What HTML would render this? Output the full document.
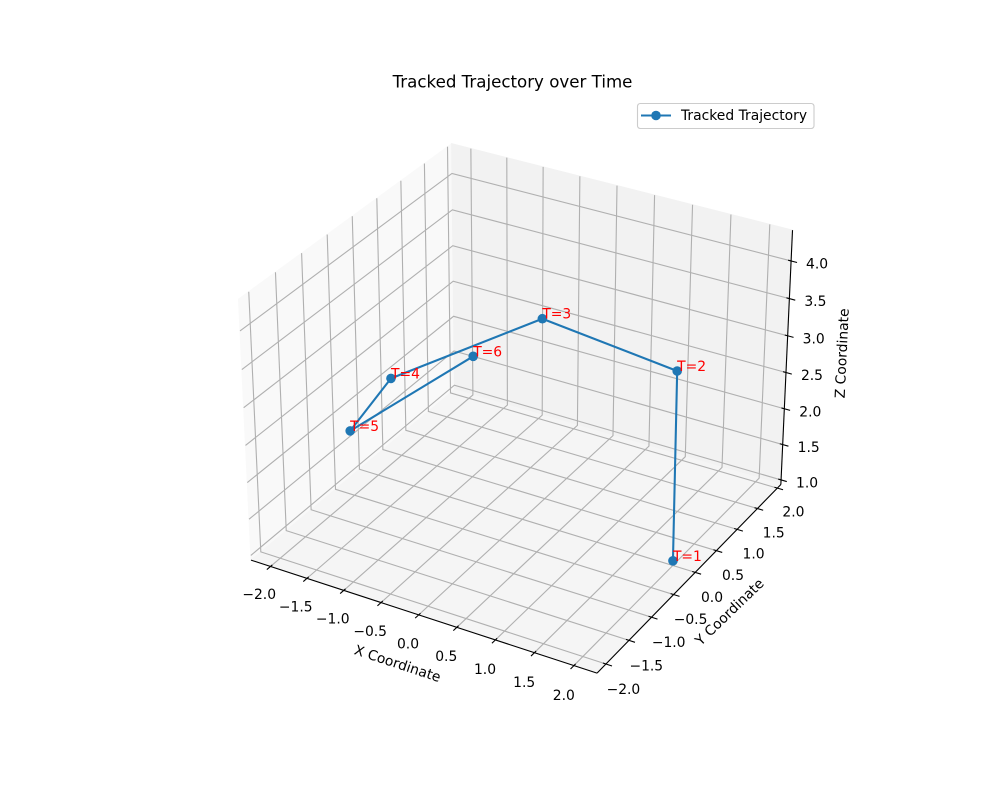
<!DOCTYPE html>
<html>
<head>
<meta charset="utf-8">
<title>Tracked Trajectory over Time</title>
<style>
html,body{margin:0;padding:0;background:#fff;width:1000px;height:800px;overflow:hidden}
svg{display:block}
text{font-family:"DejaVu Sans","Liberation Sans",sans-serif;font-size:13.89px;fill:#000}
</style>
</head>
<body>
<svg id="chart" xmlns="http://www.w3.org/2000/svg" width="1000" height="800" viewBox="0 0 1000 800">
  <rect x="0" y="0" width="1000" height="800" fill="#ffffff"></rect>
  <g id="panes"></g>
  <g id="grid"></g>
  <g id="axes"></g>
  <g id="ticks"></g>
  <g id="tickLabels"></g>
  <g id="series"></g>
  <g id="pointLabels"></g>
  <text x="512.5" y="87.7" text-anchor="middle" style="font-size:16.67px">Tracked Trajectory over Time</text>
  <text id="xTitle" text-anchor="middle">X Coordinate</text>
  <text id="yTitle" text-anchor="middle">Y Coordinate</text>
  <text id="zTitle" text-anchor="middle">Z Coordinate</text>
  <g>
    <rect x="637.5" y="103.5" width="176.5" height="25" rx="2.8" ry="2.8" fill="#ffffff" fill-opacity="0.8" stroke="#cccccc" stroke-width="1.1"></rect>
    <line x1="641" y1="115.5" x2="671" y2="115.5" stroke="#1f77b4" stroke-width="2.08"></line>
    <circle cx="656" cy="115.5" r="4.8" fill="#1f77b4"></circle>
    <text x="681" y="120">Tracked Trajectory</text>
  </g>
</svg>
<script>
const timeLabels = ["T=1", "T=2", "T=3", "T=4", "T=5", "T=6"];
const xValues = [2.0, 1.08, -0.84, -1.98, -1.326, 0.57];
const yValues = [0.0, 1.68, 1.82, 0.28, -1.51, -1.92];
const zValues = [1.0, 2.39, 2.5, 2.15, 2.6, 4.34];
const xTickValues = [-2, -1.5, -1, -0.5, 0, 0.5, 1, 1.5, 2];
const yTickValues = [-2, -1.5, -1, -0.5, 0, 0.5, 1, 1.5, 2];
const zTickValues = [1, 1.5, 2, 2.5, 3, 3.5, 4];
const xLim = [-2.27, 2.29];
const yLim = [-2.19, 2.09];
const zLim = [0.935, 4.405];

const NS = "http://www.w3.org/2000/svg";
const elev = 30 * Math.PI / 180, azim = -60 * Math.PI / 180, dist = 10;
const scaleBox = 1.8294640721620434 * 25 / 24 / Math.sqrt(41);
const box = [4 * scaleBox, 4 * scaleBox, 3 * scaleBox];
const w = [Math.cos(elev) * Math.cos(azim), Math.cos(elev) * Math.sin(azim), Math.sin(elev)];
const uLen = Math.hypot(w[0], w[1]);
const u = [-w[1] / uLen, w[0] / uLen, 0];
const v = [w[1] * u[2] - w[2] * u[1], w[2] * u[0] - w[0] * u[2], w[0] * u[1] - w[1] * u[0]];

function project(x, y, z) {
  const p = [
    ((x - xLim[0]) / (xLim[1] - xLim[0]) - 0.5) * box[0],
    ((y - yLim[0]) / (yLim[1] - yLim[0]) - 0.5) * box[1],
    ((z - zLim[0]) / (zLim[1] - zLim[0]) - 0.5) * box[2]
  ];
  const xv = u[0] * p[0] + u[1] * p[1] + u[2] * p[2];
  const yv = v[0] * p[0] + v[1] * p[1] + v[2] * p[2];
  const d = dist - (w[0] * p[0] + w[1] * p[1] + w[2] * p[2]);
  return [204.5 + (xv / d + 0.095) / 0.185 * 616, 712 - (yv / d + 0.095) / 0.185 * 616];
}
function pts(list) {
  return list.map(function (q) { const s = project(q[0], q[1], q[2]); return s[0].toFixed(2) + "," + s[1].toFixed(2); }).join(" ");
}
function make(tag, attrs, parent) {
  const el = document.createElementNS(NS, tag);
  for (const k in attrs) el.setAttribute(k, attrs[k]);
  document.getElementById(parent).appendChild(el);
  return el;
}
function fmt(t) { return (t < 0 ? "\u2212" : "") + Math.abs(t).toFixed(1); }

const x0 = xLim[0], x1 = xLim[1], y0 = yLim[0], y1 = yLim[1], z0 = zLim[0], z1 = zLim[1];
const dx = (x1 - x0) / 12, dy = (y1 - y0) / 12;

// panes
const paneX = make("polygon", { points: pts([[x0, y0, z0], [x0, y1, z0], [x0, y1, z1], [x0, y0, z1]]), fill: "#f9f9f9", stroke: "#f9f9f9" }, "panes");


const paneY = make("polygon", { points: pts([[x0, y1, z0], [x1, y1, z0], [x1, y1, z1], [x0, y1, z1]]), fill: "#f2f2f2", stroke: "#f2f2f2" }, "panes");


const paneZ = make("polygon", { points: pts([[x0, y0, z0], [x1, y0, z0], [x1, y1, z0], [x0, y1, z0]]), fill: "#f5f5f5", stroke: "#f5f5f5" }, "panes");



const gridStyle = { fill: "none", stroke: "#b0b0b0", "stroke-width": 1.11 };
function gridLine(list) {
  const a = Object.assign({ points: pts(list) }, gridStyle);
  return make("polyline", a, "grid");
}
function tickLine(a, b) {
  const s = project(a[0], a[1], a[2]), e = project(b[0], b[1], b[2]);
  return make("line", { x1: s[0], y1: s[1], x2: e[0], y2: e[1], stroke: "#000", "stroke-width": 1.11 }, "ticks");
}
function tickText(sx, sy, t) {
  const el = make("text", { x: sx.toFixed(2), y: (sy + 5).toFixed(2), "text-anchor": "middle" }, "tickLabels");
  el.textContent = fmt(t);
  return el;
}

// x axis
xTickValues.forEach(function (t) {
  const g = gridLine([[t, y0, z0], [t, y1, z0], [t, y1, z1]]);
  
  
  const m = tickLine([t, y0 - 0.2 * dy, z0], [t, y0 + 0.1 * dy, z0]);
  
  
  const s = project(t, y0, z0);
  const l = tickText(s[0] - 10.7 + 0.3 * t, s[1] + 28.5 + 0.4 * t, t);
  
  
});
// y axis
yTickValues.forEach(function (t) {
  const g = gridLine([[x1, t, z0], [x0, t, z0], [x0, t, z1]]);
  
  
  const m = tickLine([x1 + 0.2 * dx, t, z0], [x1 - 0.1 * dx, t, z0]);
  
  
  const s = project(x1, t, z0);
  const l = tickText(s[0] + 16.8 - 0.35 * t, s[1] + 24.4 - 0.42 * t, t);
  
  
});
// z axis
zTickValues.forEach(function (t) {
  const g = gridLine([[x0, y0, t], [x0, y1, t], [x1, y1, t]]);
  
  
  const m = tickLine([x1 + 0.2 * dx, y1, t], [x1 - 0.1 * dx, y1, t]);
  
  
  const s = project(x1, y1, t);
  const l = tickText(s[0] + 26, s[1] + 2.5, t);
  
  
});

// axis lines
const axisStyle = { fill: "none", stroke: "#000", "stroke-width": 1.11 };
const axX = make("polyline", Object.assign({ points: pts([[x0, y0, z0], [x1, y0, z0]]) }, axisStyle), "axes");


const axY = make("polyline", Object.assign({ points: pts([[x1, y0, z0], [x1, y1, z0]]) }, axisStyle), "axes");


const axZ = make("polyline", Object.assign({ points: pts([[x1, y1, z0], [x1, y1, z1]]) }, axisStyle), "axes");



// series
const trackPoints = xValues.map(function (x, i) { return [x, yValues[i], zValues[i]]; });
const pathEl = make("polyline", { points: pts(trackPoints), fill: "none", stroke: "#1f77b4", "stroke-width": 2.08, "stroke-linejoin": "round" }, "series");


trackPoints.forEach(function (q, i) {
  const s = project(q[0], q[1], q[2]);
  const c = make("circle", { cx: s[0].toFixed(2), cy: s[1].toFixed(2), r: 4.8, fill: "#1f77b4" }, "series");
  
  
  const t = make("text", { x: s[0].toFixed(2), y: s[1].toFixed(2), style: "fill:#ff0000" }, "pointLabels");
  t.textContent = timeLabels[i];
  
  
});

// axis titles
function placeTitle(id, cx, cy, rot) {
  const el = document.getElementById(id);
  el.setAttribute("x", cx);
  el.setAttribute("y", cy + 5);
  el.setAttribute("transform", "rotate(" + rot + " " + cx + " " + cy + ")");
}
placeTitle("xTitle", 397.7, 663.3, 18.3);
placeTitle("yTitle", 729.3, 611.7, -44);
placeTitle("zTitle", 841.7, 353.3, -87.3);
</script>
</body>
</html>
